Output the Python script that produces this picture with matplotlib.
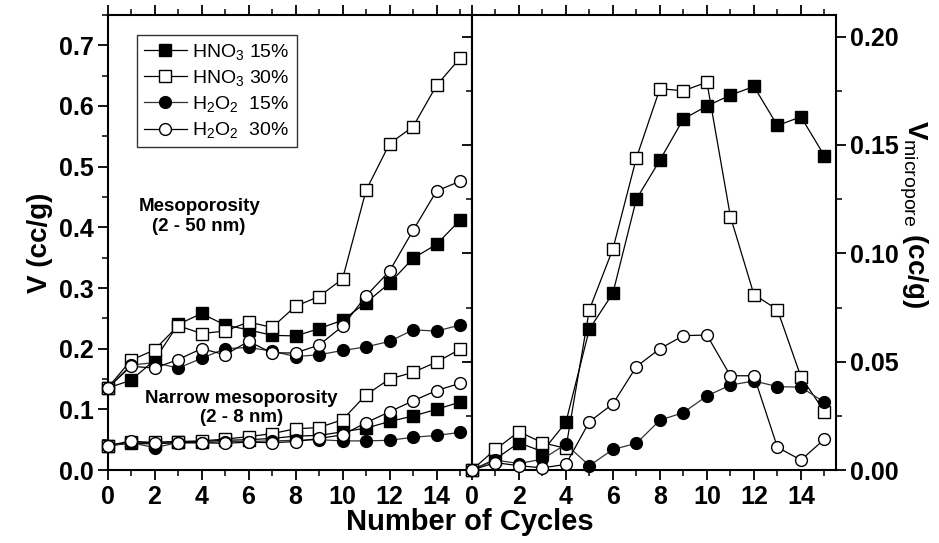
import matplotlib
matplotlib.use("Agg")
import matplotlib.pyplot as plt
from matplotlib.ticker import MultipleLocator

plt.rcParams['font.family'] = ['Liberation Sans', 'DejaVu Sans']
plt.rcParams['mathtext.fontset'] = 'custom'
plt.rcParams['mathtext.rm'] = 'Liberation Sans'
plt.rcParams['mathtext.bf'] = 'Liberation Sans:bold'
plt.rcParams['mathtext.it'] = 'Liberation Sans:italic'

cycles = list(range(16))
labels = [r'HNO$_3$ 15%', r'HNO$_3$ 30%', r'H$_2$O$_2$  15%', r'H$_2$O$_2$  30%']

# Mesoporosity (2 - 50 nm)
meso_hno3_15 = [0.135, 0.148, 0.181, 0.240, 0.258, 0.239, 0.231, 0.222, 0.221, 0.233, 0.247, 0.276, 0.308, 0.349, 0.372, 0.412]
meso_hno3_30 = [0.135, 0.181, 0.198, 0.238, 0.225, 0.229, 0.244, 0.235, 0.270, 0.286, 0.315, 0.461, 0.538, 0.566, 0.634, 0.679]
meso_h2o2_15 = [0.135, 0.173, 0.177, 0.168, 0.184, 0.200, 0.202, 0.196, 0.187, 0.190, 0.197, 0.203, 0.212, 0.231, 0.229, 0.239]
meso_h2o2_30 = [0.135, 0.171, 0.168, 0.182, 0.200, 0.190, 0.212, 0.193, 0.193, 0.206, 0.237, 0.287, 0.328, 0.395, 0.460, 0.476]

# Narrow mesoporosity (2 - 8 nm)
narrow_hno3_15 = [0.040, 0.044, 0.043, 0.046, 0.047, 0.049, 0.050, 0.052, 0.056, 0.057, 0.063, 0.069, 0.080, 0.089, 0.100, 0.112]
narrow_hno3_30 = [0.040, 0.046, 0.046, 0.047, 0.048, 0.051, 0.055, 0.060, 0.068, 0.070, 0.083, 0.124, 0.150, 0.161, 0.178, 0.199]
narrow_h2o2_15 = [0.040, 0.045, 0.037, 0.045, 0.045, 0.047, 0.047, 0.048, 0.049, 0.050, 0.048, 0.048, 0.049, 0.054, 0.057, 0.062]
narrow_h2o2_30 = [0.040, 0.048, 0.044, 0.045, 0.045, 0.044, 0.046, 0.045, 0.047, 0.052, 0.058, 0.078, 0.096, 0.114, 0.131, 0.143]

# Micropore volume
micro_hno3_15 = [0.0, 0.005, 0.0126, 0.0085, 0.022, 0.065, 0.0816, 0.125, 0.143, 0.162, 0.168, 0.173, 0.177, 0.159, 0.163, 0.145]
micro_hno3_30 = [0.0, 0.0095, 0.0177, 0.0126, 0.010, 0.074, 0.102, 0.144, 0.176, 0.175, 0.179, 0.117, 0.081, 0.074, 0.043, 0.027]
micro_h2o2_15 = [0.0, 0.0046, 0.003, 0.005, 0.0119, 0.002, 0.0095, 0.0123, 0.023, 0.0265, 0.0342, 0.0392, 0.0411, 0.0385, 0.0382, 0.0313]
micro_h2o2_30 = [0.0, 0.0034, 0.002, 0.001, 0.0026, 0.0223, 0.0305, 0.0477, 0.056, 0.062, 0.0623, 0.0435, 0.0435, 0.0105, 0.0046, 0.0142]

styles = [
    dict(marker='s', mfc='black', mec='black', ms=8, color='black'),
    dict(marker='s', mfc='white', mec='black', ms=8, color='black'),
    dict(marker='o', mfc='black', mec='black', ms=8.5, color='#333333'),
    dict(marker='o', mfc='white', mec='black', ms=8.5, color='black'),
]

fig = plt.figure(figsize=(9.39, 5.43), dpi=100)
axL = fig.add_axes([0.1145, 0.1344, 0.388, 0.838])
axR = fig.add_axes([0.5025, 0.1344, 0.388, 0.838])

lw = 0.9
meso = [meso_hno3_15, meso_hno3_30, meso_h2o2_15, meso_h2o2_30]
narrow = [narrow_hno3_15, narrow_hno3_30, narrow_h2o2_15, narrow_h2o2_30]
micro = [micro_hno3_15, micro_hno3_30, micro_h2o2_15, micro_h2o2_30]

handles = []
for i in range(4):
    h, = axL.plot(cycles, meso[i], lw=lw, mew=1, clip_on=False, zorder=3, label=labels[i], **styles[i])
    handles.append(h)
    axL.plot(cycles, narrow[i], lw=lw, mew=1, clip_on=False, zorder=3, **styles[i])
    axR.plot(cycles, micro[i], lw=lw, mew=1, clip_on=False, zorder=3, **styles[i])

tickfont = dict(fontsize=18, fontweight='bold')
xt = [0, 2, 4, 6, 8, 10, 12, 14]
xtl = ['0', '2', '4', '6', '8', '10', '12', '14']

for ax in (axL, axR):
    ax.set_xlim(0, 15.5)
    ax.xaxis.set_minor_locator(MultipleLocator(1))
    for s in ax.spines.values():
        s.set_linewidth(1.5)
    ax.tick_params(axis='x', which='major', direction='out', length=7, width=1.3, pad=4, top=True)
    ax.tick_params(axis='x', which='minor', direction='out', length=4, width=1.1, top=True)
    ax.set_xticks(xt)
    ax.set_xticklabels(xtl, **tickfont)

axL.set_ylim(0, 0.75)
axL.yaxis.set_minor_locator(MultipleLocator(0.05))
axL.tick_params(axis='y', which='major', direction='out', length=7, width=1.3, pad=3, right=True)
axL.tick_params(axis='y', which='minor', direction='out', length=4, width=1.1, right=True)
axL.set_yticks([0.0, 0.1, 0.2, 0.3, 0.4, 0.5, 0.6, 0.7])
axL.set_yticklabels(['0.0', '0.1', '0.2', '0.3', '0.4', '0.5', '0.6', '0.7'], **tickfont)

axR.set_ylim(0, 0.21)
axR.yaxis.tick_right()
axR.yaxis.set_minor_locator(MultipleLocator(0.025))
axR.set_yticks([0.0, 0.05, 0.10, 0.15, 0.20])
axR.set_yticklabels(['0.00', '0.05', '0.10', '0.15', '0.20'], **tickfont)
axR.tick_params(axis='y', which='major', direction='out', length=7, width=1.3, pad=3, left=True)
axR.tick_params(axis='y', which='minor', direction='out', length=4, width=1.1, left=True)

axL.set_ylabel('V (cc/g)', fontsize=20, fontweight='bold', labelpad=4)
fig.text(0.972, 0.605, r'$\mathbf{V}_{\mathrm{micropore}}\ \mathbf{(cc/g)}$', fontsize=20,
         rotation=-90, ha='center', va='center')
fig.text(0.5, 0.012, 'Number of Cycles', ha='center', va='bottom', fontsize=21, fontweight='bold')

axL.text(3.9, 0.418, 'Mesoporosity\n(2 - 50 nm)', ha='center', va='center',
         fontsize=13.5, fontweight='bold', linespacing=1.2)
axL.text(5.7, 0.102, 'Narrow mesoporosity\n(2 - 8 nm)', ha='center', va='center',
         fontsize=13.5, fontweight='bold', linespacing=1.2)

leg = axL.legend(handles=handles, loc='upper left', bbox_to_anchor=(0.081, 0.956),
                 borderaxespad=0, frameon=True, fancybox=False, fontsize=14,
                 handlelength=2.2, handletextpad=0.3, labelspacing=0.32,
                 borderpad=0.35)
leg.get_frame().set_edgecolor('black')
leg.get_frame().set_linewidth(1.0)

fig.savefig('out.png', dpi=100)
